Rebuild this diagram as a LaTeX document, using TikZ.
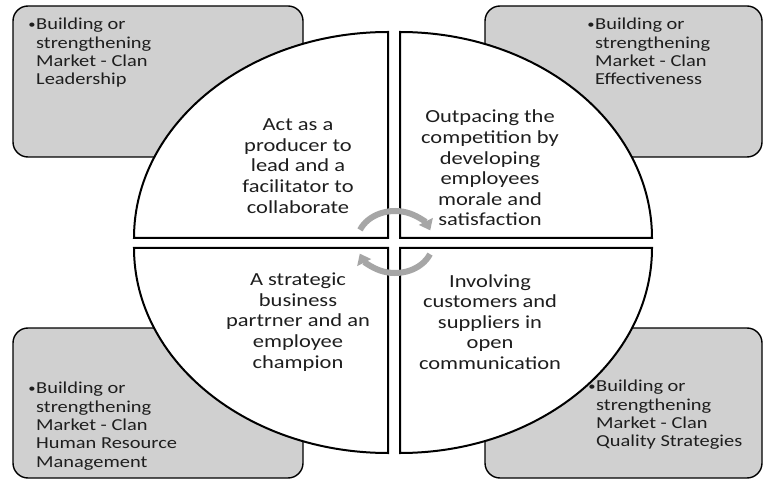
\documentclass[tikz,border=0pt]{standalone}
\usepackage{fontspec}
\setmainfont{Carlito}[FakeStretch=1.22]
\usepackage{xcolor}
\usepackage{tikz}
\usetikzlibrary{arrows.meta}

\definecolor{boxgray}{RGB}{208,208,208}
\definecolor{arrowgray}{RGB}{166,166,166}
\definecolor{textgray}{RGB}{30,30,30}
\newcommand{\bul}{\llap{\raisebox{1.5bp}{\fontsize{12}{12}\selectfont•}\hspace{0.5bp}}}

\begin{document}
\begin{tikzpicture}[x=1bp, y=-1bp,
    box/.style={draw=black, line width=1.4bp, fill=boxgray, rounded corners=15bp},
    quad/.style={draw=black, line width=2bp, fill=white},
    quadtext/.style={align=center, inner sep=0pt, text=textgray,
        font=\fontsize{18.5}{20.7}\selectfont},
    bultext/.style={align=left, inner sep=0pt, anchor=north west, text=textgray,
        font=\fontsize{16.8}{18.4}\selectfont},
    cyc/.style={draw=arrowgray, line width=6bp, -{Triangle[length=10bp,width=15bp]}}]
    \useasboundingbox (0,0) rectangle (764,481);

    % corner boxes
    \draw[box] (13,6) rectangle (303,157);
    \draw[box] (485,6) rectangle (762,157);
    \draw[box] (13,328) rectangle (303,478);
    \draw[box] (485,328) rectangle (762,478);

    % quarters of the ellipse
    \draw[quad] (388,238) -- (134,238) arc[start angle=180, end angle=270, x radius=254, y radius=206] -- cycle;
    \draw[quad] (400,238) -- (400,32) arc[start angle=270, end angle=360, x radius=252, y radius=206] -- cycle;
    \draw[quad] (400,248) -- (652,248) arc[start angle=0, end angle=90, x radius=252, y radius=205] -- cycle;
    \draw[quad] (388,248) -- (388,453) arc[start angle=90, end angle=180, x radius=254, y radius=205] -- cycle;

    % cycle arrows
    \draw[cyc] (395,242) ++(203:38 and 31) arc[start angle=203, end angle=338, x radius=38, y radius=31];
    \draw[cyc] (395,242) ++(23:38 and 31) arc[start angle=23, end angle=158, x radius=38, y radius=31];

    \node[quadtext] (lead) at (298,166) {Act as a\\producer to\\lead and a\\facilitator to\\collaborate};
    \node[quadtext] (comp) at (490,168) {Outpacing the\\competition by\\developing\\employees\\morale and\\satisfaction};
    \node[quadtext] (partner) at (298,322) {A strategic\\business\\partrner and an\\employee\\champion};
    \node[quadtext] (involve) at (490,322) {Involving\\customers and\\suppliers in\\open\\communication};

    \node[bultext] (leadership) at (36,18) {\bul Building or\\strengthening\\Market - Clan\\Leadership};
    \node[bultext] (effect) at (595,18) {\bul Building or\\strengthening\\Market - Clan\\Effectiveness};
    \node[bultext] (hrm) at (36,382) {\bul Building or\\strengthening\\Market - Clan\\Human Resource\\Management};
    \node[bultext] (quality) at (596,380) {\bul Building or\\strengthening\\Market - Clan\\Quality Strategies};
\end{tikzpicture}
\end{document}
